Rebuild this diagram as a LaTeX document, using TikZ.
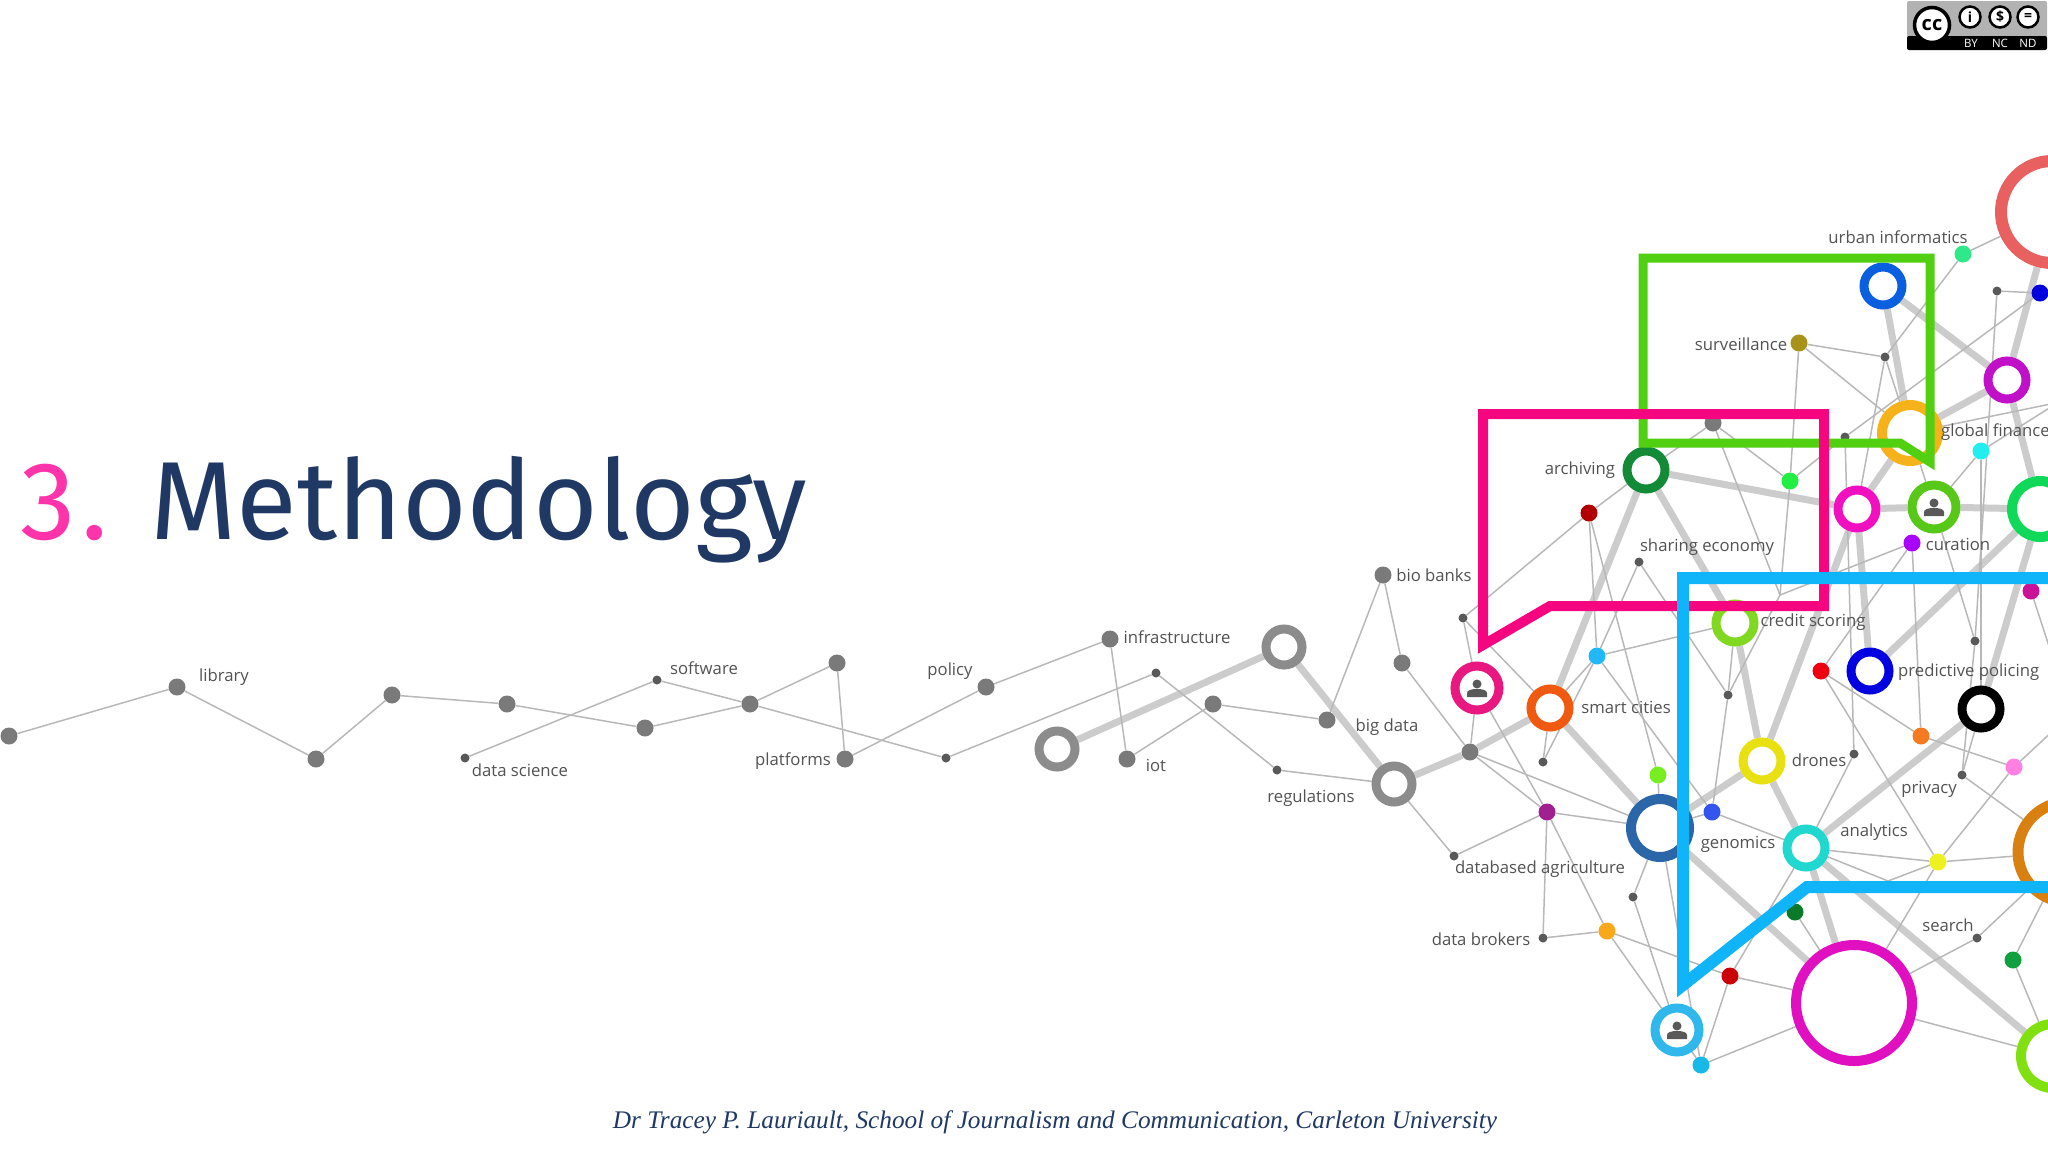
\documentclass[tikz,border=0pt]{standalone}
\usepackage{fontspec}
\setmainfont{Open Sans}
\newfontfamily\titlefont{Fira Sans}
\newfontfamily\footfont{Liberation Serif}
\usetikzlibrary{backgrounds}
\usetikzlibrary{shadows}
\definecolor{navytitle}{HTML}{1F3864}
\definecolor{pinktitle}{HTML}{FF33AA}
\tikzset{greydot/.style={circle,fill=black!52,minimum size=17pt,inner sep=0pt}}
\tikzset{tinydot/.style={circle,fill=black!65,minimum size=9pt,inner sep=0pt}}
\tikzset{colordot/.style={circle,fill=#1,minimum size=17pt,inner sep=0pt}}
\tikzset{ring/.style={circle,draw=#1,fill=white,line width=9pt,inner sep=0pt}}
\tikzset{thinedge/.style={draw=black!28,line width=1.5pt}}
\tikzset{thickedge/.style={draw=black!20,line width=7pt}}
\tikzset{txt/.style={text=black!68,font=\fontsize{16.7}{18}\selectfont,inner sep=0pt}}
\tikzset{callout/.style={draw=#1,line join=miter,miter limit=10,
    preaction={draw=black!15,transform canvas={shift={(1,4)}}}}}
\tikzset{personicon/.pic={
    \fill[black!65] (0,-4) circle (4.5);
    \fill[black!65] (-10,9) -- (-10,5) .. controls (-10,2) and (-5,1) .. (0,1) .. controls (5,1) and (10,2) .. (10,5) -- (10,9) -- cycle;
}}
\tikzset{ccring/.style={circle,draw=black,fill=white,line width=2.5pt,minimum size=21pt,inner sep=0pt,text=black,font=\bfseries\fontsize{14}{14}\selectfont}}

\begin{document}
\begin{tikzpicture}[x=1pt,y=-1pt]
\useasboundingbox (0,0) rectangle (2048,1152);

\node[anchor=base west,inner sep=0pt,text=pinktitle,font=\titlefont\fontsize{111}{120}\selectfont] (three) at (20,539) {3\kern6pt.};
\node[anchor=base west,inner sep=0pt,text=navytitle,font=\titlefont\fontsize{111}{120}\selectfont] (title) at (150,539) {Methodology};
\node[text=navytitle,inner sep=0pt,font=\footfont\itshape\fontsize{25.3}{30}\selectfont] (credit) at (1055,1122) {Dr Tracey P. Lauriault, School of Journalism and Communication, Carleton University};

% grey dots
\foreach \name/\x/\y in {g1/9/736,glib/177/687,g3/316/759,g4/392/695,g5/507/704,g6/645/728,g7/750/704,g8/837/663,
    gplat/845/759,gpol/986/687,ginf/1110/639,giot/1127/759,g9/1213/704,gbig/1327/720,gbio/1383/575,g10/1402/663,
    g11/1470/752,g12/1713/423}
    \node[greydot] (\name) at (\x,\y) {};
\foreach \name/\x/\y in {tds/465/758,tsw/657/680,ta/946/758,tb/1156/673,treg/1277/770,t1/1463/618,t2/1639/562,t3/1543/762,
    t4/1454/856,t5/1633/897,tbrok/1543/938,t6/1728/695,t7/1854/754,t8/1885/357,t9/1845/437,t10/1997/291,t11/1975/641,
    t12/1962/775,tsearch/1977/938}
    \node[tinydot] (\name) at (\x,\y) {};

% colour dots
\foreach \name/\x/\y/\col in {urban/1963/254/2EE88A,surv/1799/343/A8921A,navydot/2040/293/0000DD,limea/1790/481/22EE44,
    cyana/1981/451/22EEEE,darkred/1589/513/B00000,violet/1912/543/AA00FF,magdot/2031/591/CC1199,skya/1597/656/22B8F8,
    plum/1547/812/A02090,limeb/1658/775/77EE22,bluedot/1712/812/3355EE,reda/1821/671/EE0011,orangedot/1921/736/F57A20,
    pinkdot/2014/767/FF80E0,yellowdot/1938/862/EEF020,amber/1607/931/F8A818,darkgreen/1795/912/0A7A2A,greena/2013/960/10A040,
    redb/1730/976/CC0008,skyb/1701/1065/18B8E8}{
    \definecolor{dotcol}{HTML}{\col}
    \node[colordot=dotcol] (\name) at (\x,\y) {};
}

% rings
\foreach \name/\x/\y/\col/\size/\lw in {ringa/1057/749/8C8C8C/36/9,ringb/1284/647/8C8C8C/36/9,ringc/1394/784/8C8C8C/36/9,
    coral/2052/212/E86060/102/12,bluering/1883/286/0A5FE0/38/9,purplering/2007/380/C010C8/38/9,goldring/1910/433/F5B21A/56/10,
    archring/1646/470/128A38/38/9,magring/1857/509/F010C0/38/9,greenbig/2040/509/10D858/56/10,creditring/1735/623/80D820/38/9,
    smartring/1550/708/F05A10/38/9,genring/1660/828/2A66A8/58/10,navyring/1870/671/0000E0/38/9,blackring/1981/709/000000/38/9,
    yellowring/1762/761/E8E010/38/9,tealring/1806/848/20D8D0/38/9,orangebig/2068/852/D88010/100/11,magbig/1854/1003/E010C0/116/10,
    limebig/2053/1056/80E010/64/10}{
    \definecolor{ringcol}{HTML}{\col}
    \node[ring=ringcol,minimum size=\size pt,line width=\lw pt] (\name) at (\x,\y) {};
}
\definecolor{curcol}{HTML}{58C818}
\definecolor{pinkcol}{HTML}{E81880}
\definecolor{skycol}{HTML}{30B8EC}
\node[ring=curcol,minimum size=44pt] (curring) at (1934,507) {};
\node[ring=pinkcol,minimum size=44pt,drop shadow={shadow xshift=1pt,shadow yshift=-3pt,fill=black!18}] (persona) at (1477,688) {};
\node[ring=skycol,minimum size=44pt,drop shadow={shadow xshift=1pt,shadow yshift=-4pt,fill=black!18}] (personb) at (1677,1030) {};
\path (curring) pic {personicon};
\path (persona) pic {personicon};
\path (personb) pic {personicon};

% points that leave the page or sit under a frame
\coordinate (hida) at (1780,595);
\coordinate (hidb) at (1888,881);
\coordinate (offa) at (2060,680);
\coordinate (offb) at (2070,395);
\coordinate (offc) at (2070,715);
\coordinate (offd) at (2070,400);

\begin{scope}[on background layer]
\foreach \a/\b in {ringa/ringb,ringb/ringc,ringc/g11,g11/smartring,smartring/genring,genring/magbig,yellowring/genring,
    creditring/yellowring,yellowring/magring,yellowring/tealring,tealring/blackring,tealring/magbig,tealring/limebig,
    navyring/magring,navyring/greenbig,greenbig/blackring,magring/goldring,magring/curring,curring/greenbig,
    archring/magring,archring/smartring,archring/creditring,bluering/goldring,bluering/purplering,purplering/goldring,
    purplering/greenbig,coral/purplering}
    \draw[thickedge] (\a) -- (\b);
\foreach \a/\b in {g1/glib,glib/g3,g3/g4,g4/g5,g5/g6,g6/g7,tds/tsw,tsw/g7,g7/g8,g8/gplat,g7/ta,gplat/gpol,gpol/ginf,ginf/giot,
    ta/tb,tb/treg,giot/g9,g9/gbig,gbig/gbio,gbio/g10,g10/g11,treg/ringc,ringc/t4,t4/plum,
    urban/coral,urban/t8,t8/surv,t8/goldring,surv/goldring,surv/limea,t8/magring,t10/navydot,t10/t11,navydot/t9,t9/limea,t9/t7,
    g12/archring,g12/limea,g12/hida,limea/hida,hida/t6,archring/darkred,darkred/t1,darkred/skya,darkred/limeb,
    t2/skya,t2/t6,skya/smartring,skya/creditring,skya/bluedot,smartring/t3,skya/t3,persona/g11,persona/plum,t1/persona,t1/smartring,
    g11/plum,g11/genring,plum/genring,plum/tbrok,plum/amber,tbrok/amber,amber/personb,amber/redb,
    genring/t5,t5/personb,genring/skyb,personb/skyb,redb/skyb,redb/magbig,redb/tealring,darkgreen/magbig,skyb/magbig,
    limeb/genring,bluedot/genring,bluedot/tealring,creditring/t6,t6/bluedot,tealring/yellowdot,tealring/hidb,hidb/yellowdot,
    yellowdot/magbig,yellowdot/orangebig,yellowdot/pinkdot,yellowdot/reda,reda/orangedot,orangedot/pinkdot,violet/orangedot,
    violet/reda,violet/hida,t12/blackring,t12/orangebig,tealring/t7,curring/cyana,cyana/offb,goldring/offd,cyana/blackring,
    t11/t12,curring/t11,curring/goldring,magdot/offa,tsearch/magbig,tsearch/orangebig,greena/orangebig,greena/limebig,
    magbig/limebig,pinkdot/offc}
    \draw[thinedge] (\a) -- (\b);
\end{scope}

% labels
\foreach \name/\x/\y/\lab in {llib/224/677/library,lds/520/770/data science,lsw/704/668/software,lplat/793/761/platforms,
    lpol/950/671/policy,linf/1177/637/infrastructure,liot/1156/765/iot,lbig/1387/727/big data,lreg/1311/798/regulations,
    lbio/1434/575/bio banks,lurb/1898/237/urban informatics,lsur/1741/344/surveillance,larc/1580/470/archiving,
    lsha/1707/547/sharing economy,lcur/1958/544/curation,lcre/1813/622/credit scoring,lsma/1626/707/smart cities,
    ldro/1819/760/drones,lpri/1929/789/privacy,lana/1874/832/analytics,lgen/1738/844/genomics,
    ldab/1540/869/databased agriculture,lbro/1481/939/data brokers,lsea/1948/925/search}
    \node[txt] (\name) at (\x,\y) {\lab};
\node[txt,anchor=west] (lglo) at (1941,432) {global finance};
\node[txt,anchor=west] (lpre) at (1898,672) {predictive policing};

% frames
\definecolor{framegreen}{HTML}{50D010}
\definecolor{framepink}{HTML}{F5057F}
\definecolor{frameblue}{HTML}{10B4F8}
\draw[callout=framegreen,line width=9pt] (1643,258) -- (1930,258) -- (1930,462) -- (1900,443) -- (1643,443) -- cycle;
\draw[callout=framepink,line width=10pt] (1483,414) -- (1824,414) -- (1824,606) -- (1550,606) -- (1483,645) -- cycle;
\draw[callout=frameblue,line width=12pt] (2070,578) -- (1683,578) -- (1683,985) -- (1807,887) -- (2070,887);

% licence badge
\fill[black!30,rounded corners=2pt] (1907,1) rectangle (2047,38);
\fill[black,rounded corners=2pt] (1907,36) rectangle (2047,50);
\node[circle,draw=black,fill=white,line width=3.5pt,minimum size=35pt,inner sep=0pt,font=\bfseries\fontsize{20}{20}\selectfont] (ccmark) at (1932,25) {cc};
\node[ccring] (ccby) at (1970,17) {i};
\node[ccring] (ccnc) at (2000,17) {\$};
\node[ccring] (ccnd) at (2028,17) {=};
\foreach \x/\lab in {1971/BY,2000/NC,2028/ND}
    \node[text=white,inner sep=0pt,font=\fontsize{11.5}{12}\selectfont] (cc\lab) at (\x,43) {\lab};
\end{tikzpicture}
\end{document}
